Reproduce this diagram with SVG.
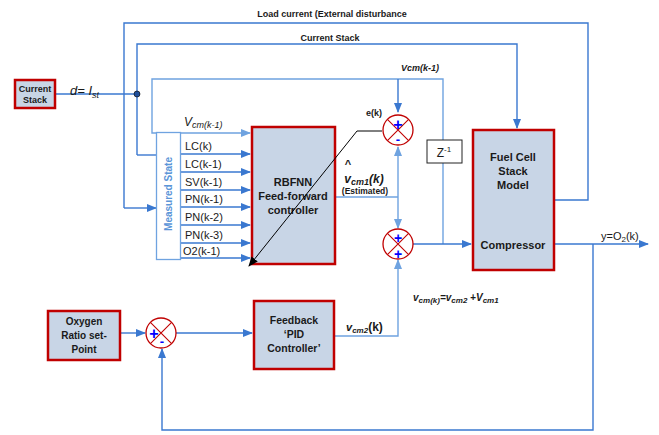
<svg xmlns="http://www.w3.org/2000/svg" width="659" height="435" viewBox="0 0 659 435">
<defs>
<marker id="ab" markerWidth="10" markerHeight="8" refX="9" refY="4" orient="auto" markerUnits="userSpaceOnUse"><path d="M0,0 L10,4 L0,8 Z" fill="#3a78d0"/></marker>
<marker id="al" markerWidth="10" markerHeight="8" refX="9" refY="4" orient="auto" markerUnits="userSpaceOnUse"><path d="M0,0 L10,4 L0,8 Z" fill="#6fa3e0"/></marker>
<marker id="ak" markerWidth="10" markerHeight="8" refX="9" refY="4" orient="auto" markerUnits="userSpaceOnUse"><path d="M0,0 L10,4 L0,8 Z" fill="#000"/></marker>
<style>
.box{fill:#c8d5e6;stroke:#c00000;stroke-width:2.5}
.ln{fill:none;stroke:#3a78d0;stroke-width:1.4}
.lt{fill:none;stroke:#6fa3e0;stroke-width:1.4}
.t{font-family:"Liberation Sans",Arial,sans-serif;font-weight:bold;fill:#1a1a1a;text-anchor:middle}
.r{font-family:"Liberation Sans",Arial,sans-serif;fill:#1a1a1a;font-size:11px}
.circ{fill:#fff;stroke:#c00000;stroke-width:1.3}
.x{stroke:#c00000;stroke-width:1.1}
.sg{font-family:"Liberation Sans",Arial,sans-serif;fill:#0000ff;font-weight:bold;text-anchor:middle}
</style>
</defs>
<rect width="659" height="435" fill="#fff"/>
<g id="connectors">
<path class="ln" d="M55,94 H137"/>
<path class="ln" d="M124,208 V23 H588 V200 H554"/>
<path class="ln" d="M137,155 V44 H517 V128" marker-end="url(#ab)"/>
<path class="ln" d="M137,155 H157"/>
<path class="ln" d="M124,208 H156" marker-end="url(#ab)"/>
<path class="lt" d="M443,244 V79 H152 V133 H250" marker-end="url(#al)"/>
<path class="ln" d="M398,79 V112" marker-end="url(#ab)"/>
<path class="ln" d="M181,154 H250" marker-end="url(#ab)"/>
<path class="ln" d="M181,172 H250" marker-end="url(#ab)"/>
<path class="ln" d="M181,190 H250" marker-end="url(#ab)"/>
<path class="ln" d="M181,207 H250" marker-end="url(#ab)"/>
<path class="ln" d="M181,225 H250" marker-end="url(#ab)"/>
<path class="ln" d="M181,243 H250" marker-end="url(#ab)"/>
<path class="ln" d="M181,258 H250" marker-end="url(#ab)"/>
<path class="lt" d="M335,197 H398"/>
<path class="lt" d="M398,197 V147" marker-end="url(#al)"/>
<path class="lt" d="M398,197 V228" marker-end="url(#al)"/>
<path class="ln" d="M413,244 H471" marker-end="url(#ab)"/>
<path class="ln" d="M554,244 H648" marker-end="url(#ab)"/>
<path class="ln" d="M593,244 V430 H162 V349" marker-end="url(#ab)"/>
<path class="ln" d="M120,333 H145" marker-end="url(#ab)"/>
<path class="ln" d="M176,333 H252" marker-end="url(#ab)"/>
<path class="lt" d="M335,336 H398 V260" marker-end="url(#al)"/>
<circle cx="137" cy="94" r="3" fill="#1f4e9a" stroke="#000" stroke-width="0.6"/>
</g>
<g id="current-stack">
<rect class="box" x="15" y="80" width="40" height="28"/>
<text class="t" font-size="9" x="35" y="92">Current</text>
<text class="t" font-size="9" x="35" y="103">Stack</text>
</g>
<text class="r" x="70" y="95" font-style="italic" style="font-size:13px">d= I<tspan font-size="9" dy="3">st</tspan></text>
<text class="t" font-size="9" x="332" y="17">Load current (External disturbance</text>
<text class="t" font-size="9" x="330" y="41">Current Stack</text>
<text class="t" font-size="9" x="420" y="71" font-style="italic">Vcm(k-1)</text>
<text class="r" x="184" y="126" font-style="italic" style="font-size:12px">V<tspan font-size="9" dy="2">cm(k-1)</tspan></text>
<g id="measured-state">
<rect x="156.5" y="132.5" width="24" height="127" fill="#fff" stroke="#6fa3e0" stroke-width="1.3"/>
<text class="t" font-size="10" style="fill:#5b95d8" transform="translate(172,194) rotate(-90)">Measured State</text>
</g>
<g class="r">
<text x="185" y="150">LC(k)</text>
<text x="185" y="168">LC(k-1)</text>
<text x="185" y="186">SV(k-1)</text>
<text x="185" y="203">PN(k-1)</text>
<text x="185" y="221">PN(k-2)</text>
<text x="185" y="239">PN(k-3)</text>
<text x="183" y="255">O2(k-1)</text>
</g>
<g id="rbfnn">
<rect class="box" x="252" y="127" width="83" height="137"/>
<text class="t" font-size="11" x="293" y="186">RBFNN</text>
<text class="t" font-size="11" x="293" y="200">Feed-forward</text>
<text class="t" font-size="11" x="293" y="214">controller</text>
</g>
<g id="sum1">
<circle class="circ" cx="398" cy="130" r="15"/>
<path class="x" d="M387.4,119.4 L408.6,140.6 M408.6,119.4 L387.4,140.6"/>
<text class="sg" font-size="16" x="398" y="130">+</text>
<text class="sg" font-size="13" x="398" y="144">-</text>
</g>
<text class="t" font-size="9" x="374" y="116">e(k)</text>
<text class="t" font-size="12" x="364" y="183" font-style="italic">v<tspan font-size="9" dy="2">cm1</tspan><tspan dy="-2">(k)</tspan></text>
<text class="t" font-size="11" x="348" y="168">^</text>
<text class="t" font-size="8.5" x="365" y="194">(Estimated)</text>
<g id="sum2">
<circle class="circ" cx="398" cy="244" r="15"/>
<path class="x" d="M387.4,233.4 L408.6,254.6 M408.6,233.4 L387.4,254.6"/>
<text class="sg" font-size="14" x="398" y="243">+</text>
<text class="sg" font-size="14" x="398" y="259">+</text>
</g>
<g id="z-delay">
<rect x="427" y="140" width="35" height="23" fill="#fff" stroke="#222" stroke-width="1"/>
<text class="r" x="444" y="157" text-anchor="middle" style="font-size:12px">Z<tspan font-size="8" dy="-5">-1</tspan></text>
</g>
<g id="fuel-cell">
<rect class="box" x="473" y="130" width="81" height="140"/>
<text class="t" font-size="11" x="513" y="161">Fuel Cell</text>
<text class="t" font-size="11" x="513" y="175">Stack</text>
<text class="t" font-size="11" x="513" y="189">Model</text>
<text class="t" font-size="11" x="513" y="249">Compressor</text>
</g>
<text class="r" x="601" y="240">y=O<tspan font-size="8" dy="2">2</tspan><tspan dy="-2">(k)</tspan></text>
<g id="oxygen-setpoint">
<rect class="box" x="48" y="311" width="72" height="49"/>
<text class="t" font-size="10" x="84" y="325">Oxygen</text>
<text class="t" font-size="10" x="84" y="339">Ratio set-</text>
<text class="t" font-size="10" x="84" y="353">Point</text>
</g>
<g id="sum3">
<circle class="circ" cx="161" cy="333" r="15"/>
<path class="x" d="M150.4,322.4 L171.6,343.6 M171.6,322.4 L150.4,343.6"/>
<text class="sg" font-size="16" x="154" y="339">+</text>
<text class="sg" font-size="13" x="162" y="346">-</text>
</g>
<g id="pid">
<rect class="box" x="254" y="301" width="80" height="68"/>
<text class="t" font-size="10.5" x="294" y="324">Feedback</text>
<text class="t" font-size="10.5" x="294" y="338">‘PID</text>
<text class="t" font-size="10.5" x="294" y="352">Controller’</text>
</g>
<g id="connectors-over">
<path d="M382,131 H357 L249,266" fill="none" stroke="#000" stroke-width="1" marker-end="url(#ak)"/>
</g>
<text class="t" font-size="11" x="346" y="331" style="text-anchor:start" font-style="italic">v<tspan font-size="8" dy="2">cm2</tspan><tspan dy="-2" font-style="normal" font-size="12">(k)</tspan></text>
<text class="t" font-size="10" x="413" y="301" style="text-anchor:start" font-style="italic">v<tspan font-size="8" dy="2">cm(k)</tspan><tspan dy="-2">=v</tspan><tspan font-size="8" dy="2">cm2</tspan><tspan dy="-2"> +V</tspan><tspan font-size="8" dy="2">cm1</tspan></text>
</svg>
